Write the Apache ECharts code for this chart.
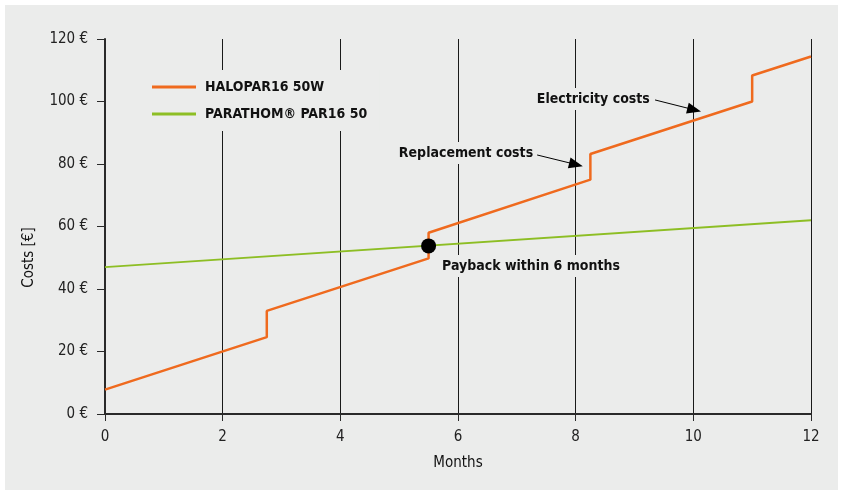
<!DOCTYPE html>
<html>
<head>
<meta charset="utf-8">
<script src="https://cdn.jsdelivr.net/npm/echarts@6/dist/echarts.min.js"></script>
<style>
  html, body { margin: 0; padding: 0; background: #ffffff; width: 845px; height: 493px; overflow: hidden; }
  #chart { position: absolute; left: 5px; top: 5px; width: 833px; height: 485px; }
</style>
</head>
<body>
<div id="chart"></div>
<script>
// ---- data ----
const monthTicks = [0, 2, 4, 6, 8, 10, 12];
const haloMonths = [0, 2.75, 2.75, 5.5, 5.5, 8.25, 8.25, 11, 11, 12];
const haloCosts  = [7.8, 24.6, 33, 49.8, 58, 75, 83.2, 100, 108.3, 114.4];
const parMonths  = [0, 12];
const parCosts   = [47, 62];
const paybackPoint = [5.5, 53.8];
const seriesNames = ['HALOPAR16 50W', 'PARATHOM® PAR16 50'];
const annotationTexts = ['Replacement costs', 'Electricity costs', 'Payback within 6 months'];

// ---- presentation ----
const FONT = "'Liberation Sans Narrow', 'DejaVu Sans Condensed', 'Roboto Condensed', sans-serif";
const PANEL = '#ebeceb';
const ORANGE = '#ef6a1e';
const GREEN = '#8dbe24';

const haloData = haloMonths.map((m, i) => [m, haloCosts[i]]);
const parData = parMonths.map((m, i) => [m, parCosts[i]]);

// annotation placement (data space)
const textAnchors = [[6.136, 83.5], [8.30, 100.8], [7.24, 47.4]];
const arrows = [
  [[7.343, 82.9], [8.006, 79.84]],
  [[9.349, 100.5], [10.015, 97.34]]
];

const chart = echarts.init(document.getElementById('chart'), null, { renderer: 'canvas' });
chart.setOption({
  backgroundColor: PANEL,
  animation: false,
  textStyle: { fontFamily: FONT },
  grid: { left: 100, right: 27, top: 34, bottom: 76, containLabel: false, outerBoundsMode: 'none' },
  legend: {
    orient: 'vertical',
    left: 139,
    top: 65,
    padding: [10, 12, 10, 8],
    itemGap: 13,
    itemWidth: 44,
    itemHeight: 3,
    icon: 'rect',
    backgroundColor: PANEL,
    data: seriesNames,
    textStyle: { fontFamily: FONT, fontSize: 14, fontWeight: 'bold', color: '#111', padding: [0, 0, 0, 4] }
  },
  xAxis: [{
    type: 'value',
    min: 0, max: 12, interval: 2,
    name: 'Months',
    nameLocation: 'middle',
    nameGap: 42,
    nameTextStyle: { fontFamily: FONT, fontSize: 15, color: '#111' },
    axisLine: { show: true, onZero: false, lineStyle: { color: '#2a2a2a', width: 2 } },
    axisTick: { show: true, inside: false, length: 7, lineStyle: { color: '#2a2a2a', width: 1 } },
    axisLabel: { fontFamily: FONT, fontSize: 15, color: '#222', margin: 16 },
    splitLine: { show: true, lineStyle: { color: '#1a1a1a', width: 1 } }
  }, {
    type: 'value', position: 'top',
    min: 0, max: 12, interval: 2,
    axisLine: { show: true, lineStyle: { color: '#2a2a2a', width: 2 } },
    axisTick: { show: false }, axisLabel: { show: false }, splitLine: { show: false }
  }],
  yAxis: {
    type: 'value',
    min: 0, max: 120, interval: 20,
    name: 'Costs [€]',
    nameLocation: 'middle',
    nameGap: 68,
    nameRotate: 90,
    nameTextStyle: { fontFamily: FONT, fontSize: 15, color: '#111', padding: [0, 62, 0, 0] },
    axisLine: { show: true, lineStyle: { color: '#2a2a2a', width: 2 } },
    axisTick: { show: true, inside: false, length: 8, lineStyle: { color: '#2a2a2a', width: 1 } },
    axisLabel: { fontFamily: FONT, fontSize: 15, color: '#222', margin: 17, formatter: '{value} €' },
    splitLine: { show: false }
  },
  series: [
    {
      name: seriesNames[0], type: 'line', data: haloData, xAxisIndex: 0,
      showSymbol: false, symbol: 'none',
      lineStyle: { color: ORANGE, width: 2.5 }, itemStyle: { color: ORANGE },
      z: 3
    },
    {
      name: seriesNames[1], type: 'line', data: parData, xAxisIndex: 0,
      showSymbol: false, symbol: 'none',
      lineStyle: { color: GREEN, width: 2 }, itemStyle: { color: GREEN },
      z: 2
    },
    {
      name: 'annotations', type: 'scatter', data: [paybackPoint], xAxisIndex: 0,
      symbol: 'circle', symbolSize: 15,
      itemStyle: { color: '#000', opacity: 1 },
      z: 10,
      markPoint: {
        symbol: 'circle', symbolSize: 0,
        z: 9,
        label: {
          show: true, position: 'inside',
          fontFamily: FONT, fontSize: 14, fontWeight: 'bold', color: '#111',
          backgroundColor: PANEL, padding: [4, 4]
        },
        data: annotationTexts.map((t, i) => ({
          coord: textAnchors[i],
          label: { formatter: t }
        }))
      },
      markLine: {
        silent: true,
        symbol: ['none', 'triangle'],
        symbolSize: [11, 14],
        lineStyle: { color: '#000', width: 1, type: 'solid' },
        label: { show: false },
        data: arrows.map(a => [{ coord: a[0] }, { coord: a[1] }])
      }
    }
  ]
});
</script>
</body>
</html>
